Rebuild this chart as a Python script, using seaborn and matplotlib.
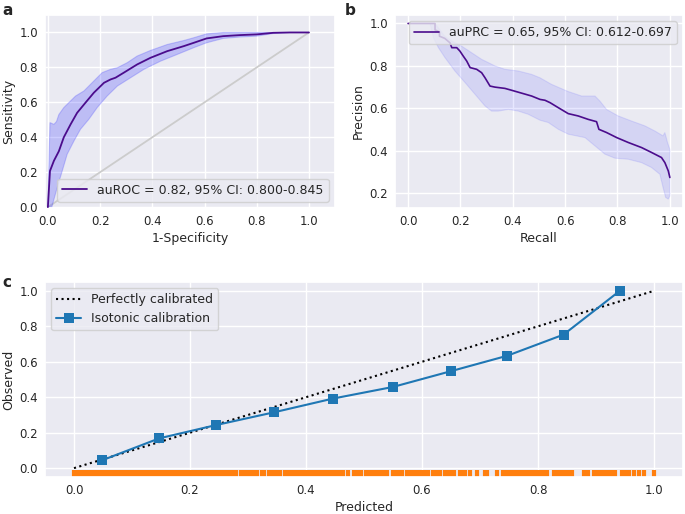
import numpy as np
import matplotlib
matplotlib.use("Agg")
import matplotlib.pyplot as plt
import seaborn as sns

# ---------------- data ----------------
# Panel a: ROC
roc_fpr = [0.0, 0.008, 0.023, 0.042, 0.061, 0.087, 0.112, 0.144, 0.176, 0.215, 0.24, 0.259,
           0.291, 0.342, 0.393, 0.457, 0.521, 0.559, 0.608, 0.672, 0.736, 0.80, 0.863, 0.927, 1.0]
roc_tpr = [0.0, 0.207, 0.265, 0.32, 0.40, 0.474, 0.54, 0.598, 0.655, 0.712, 0.731, 0.741,
           0.77, 0.817, 0.855, 0.893, 0.922, 0.941, 0.966, 0.979, 0.985, 0.989, 0.998, 1.0, 1.0]
roc_up_x = [0.0, 0.008, 0.023, 0.033, 0.042, 0.061, 0.08, 0.106, 0.138, 0.176, 0.208, 0.24,
            0.266, 0.304, 0.342, 0.393, 0.457, 0.521, 0.559, 0.608, 0.672, 1.0]
roc_up_y = [0.0, 0.484, 0.474, 0.49, 0.53, 0.57, 0.598, 0.636, 0.665, 0.722, 0.77, 0.789,
            0.798, 0.827, 0.865, 0.897, 0.931, 0.954, 0.97, 0.992, 1.0, 1.0]
roc_lo_x = [0.0, 0.015, 0.036, 0.055, 0.074, 0.10, 0.125, 0.157, 0.189, 0.227, 0.266, 0.317,
            0.368, 0.432, 0.495, 0.559, 0.608, 0.672, 0.736, 0.80, 0.863, 0.927, 1.0]
roc_lo_y = [0.0, 0.0, 0.113, 0.207, 0.303, 0.379, 0.446, 0.503, 0.57, 0.636, 0.693, 0.741,
            0.789, 0.836, 0.874, 0.913, 0.941, 0.966, 0.974, 0.979, 0.994, 1.0, 1.0]
diag = [0.0, 1.0]

# Panel b: PR
pr_rec = [0.0, 0.103, 0.103, 0.12, 0.12, 0.14, 0.16, 0.167, 0.186, 0.198, 0.211, 0.224, 0.237,
          0.262, 0.281, 0.294, 0.313, 0.332, 0.37, 0.396, 0.427, 0.472, 0.504, 0.523, 0.542,
          0.574, 0.612, 0.65, 0.688, 0.72, 0.729, 0.758, 0.797, 0.841, 0.892, 0.93, 0.968,
          0.981, 0.994, 1.0]
pr_prec = [1.0, 1.0, 0.97, 0.96, 0.94, 0.93, 0.909, 0.886, 0.886, 0.87, 0.846, 0.823, 0.792,
           0.784, 0.768, 0.744, 0.705, 0.70, 0.694, 0.685, 0.674, 0.658, 0.642, 0.638, 0.627,
           0.603, 0.575, 0.564, 0.548, 0.537, 0.501, 0.486, 0.462, 0.439, 0.415, 0.392, 0.368,
           0.344, 0.305, 0.274]
pr_up_x = [0.0, 0.103, 0.14, 0.17, 0.205, 0.243, 0.281, 0.332, 0.37, 0.421, 0.472, 0.504,
           0.548, 0.612, 0.663, 0.714, 0.733, 0.758, 0.803, 0.854, 0.905, 0.943, 0.974,
           0.981, 0.991, 1.0]
pr_up_y = [1.0, 1.0, 0.94, 0.915, 0.893, 0.862, 0.831, 0.80, 0.784, 0.776, 0.76, 0.744,
           0.713, 0.679, 0.658, 0.658, 0.634, 0.595, 0.564, 0.54, 0.517, 0.493, 0.47,
           0.486, 0.439, 0.407]
pr_lo_x = [0.0, 0.084, 0.097, 0.116, 0.141, 0.179, 0.218, 0.256, 0.294, 0.319, 0.345, 0.383,
           0.421, 0.459, 0.504, 0.536, 0.574, 0.612, 0.676, 0.714, 0.752, 0.79, 0.841, 0.892,
           0.93, 0.962, 0.974, 0.984, 0.994, 1.0]
pr_lo_y = [1.0, 1.0, 0.933, 0.886, 0.839, 0.776, 0.721, 0.666, 0.611, 0.587, 0.587, 0.595,
           0.587, 0.572, 0.544, 0.533, 0.501, 0.478, 0.462, 0.423, 0.384, 0.365, 0.36, 0.344,
           0.321, 0.289, 0.227, 0.18, 0.172, 0.187]

# Panel c: calibration
cal_pred = [0.049, 0.147, 0.245, 0.345, 0.446, 0.55, 0.65, 0.747, 0.844, 0.941]
cal_obs = [0.045, 0.168, 0.243, 0.315, 0.392, 0.458, 0.547, 0.634, 0.753, 1.0]
rug_vals = [
    0.000, 0.004, 0.008, 0.012, 0.016, 0.020, 0.024, 0.028, 0.032, 0.036, 0.040, 0.044,
    0.048, 0.052, 0.056, 0.060, 0.064, 0.068, 0.072, 0.076, 0.080, 0.084, 0.088, 0.092,
    0.096, 0.100, 0.104, 0.108, 0.112, 0.116, 0.120, 0.124, 0.128, 0.132, 0.136, 0.140,
    0.144, 0.148, 0.152, 0.156, 0.160, 0.164, 0.168, 0.172, 0.176, 0.180, 0.184, 0.188,
    0.192, 0.196, 0.200, 0.204, 0.208, 0.212, 0.216, 0.220, 0.224, 0.228, 0.232, 0.236,
    0.240, 0.244, 0.248, 0.252, 0.256, 0.260, 0.264, 0.268, 0.272, 0.276, 0.280, 0.288,
    0.292, 0.296, 0.300, 0.304, 0.308, 0.312, 0.316, 0.324, 0.328, 0.336, 0.340, 0.344,
    0.351, 0.355, 0.363, 0.367, 0.371, 0.375, 0.382, 0.386, 0.390, 0.394, 0.398, 0.404,
    0.408, 0.412, 0.416, 0.420, 0.424, 0.428, 0.432, 0.436, 0.440, 0.444, 0.451, 0.455,
    0.459, 0.463, 0.473, 0.482, 0.486, 0.490, 0.494, 0.504, 0.508, 0.512, 0.516, 0.520,
    0.524, 0.528, 0.532, 0.536, 0.540, 0.550, 0.554, 0.558, 0.562, 0.566, 0.574, 0.578,
    0.582, 0.586, 0.590, 0.594, 0.602, 0.606, 0.610, 0.619, 0.623, 0.627, 0.631, 0.640,
    0.644, 0.648, 0.652, 0.656, 0.666, 0.670, 0.674, 0.683, 0.695, 0.708, 0.712, 0.729,
    0.739, 0.743, 0.747, 0.751, 0.756, 0.762, 0.766, 0.770, 0.774, 0.779, 0.785, 0.790,
    0.794, 0.797, 0.802, 0.808, 0.816, 0.828, 0.832, 0.836, 0.840, 0.845, 0.849, 0.854,
    0.859, 0.880, 0.887, 0.897, 0.901, 0.905, 0.909, 0.914, 0.919, 0.924, 0.928, 0.933,
    0.945, 0.950, 0.957, 0.966, 0.974, 0.983, 1.000]

roc_label = "auROC = 0.82, 95% CI: 0.800-0.845"
pr_label = "auPRC = 0.65, 95% CI: 0.612-0.697"
ticks = [0.0, 0.2, 0.4, 0.6, 0.8, 1.0]

# ---------------- style ----------------
sns.set_theme(style="darkgrid")
plt.rcParams["font.family"] = ["DejaVu Sans"]
plt.rcParams["xtick.labelsize"] = 8.5
plt.rcParams["ytick.labelsize"] = 8.5
plt.rcParams["xtick.major.size"] = 0
plt.rcParams["ytick.major.size"] = 0
plt.rcParams["xtick.major.pad"] = 5
plt.rcParams["ytick.major.pad"] = 5
plt.rcParams["axes.labelsize"] = 9
plt.rcParams["legend.fontsize"] = 9

line_col = "#4B0C8C"
fill_col = "#3a3aff"

fig = plt.figure(figsize=(6.85, 5.14), dpi=100)
ax_a = fig.add_axes([0.0657, 0.5953, 0.4234, 0.3755])
ax_b = fig.add_axes([0.5766, 0.5953, 0.4204, 0.3755])
ax_c = fig.add_axes([0.0657, 0.0720, 0.9314, 0.3794])

# ---- a ----
ax_a.plot(diag, diag, color="#cccccc", lw=1.3, zorder=1)
ax_a.fill(np.concatenate([roc_up_x, roc_lo_x[::-1]]),
          np.concatenate([roc_up_y, roc_lo_y[::-1]]),
          color=fill_col, alpha=0.25, lw=0.8, zorder=2)
sns.lineplot(x=roc_fpr, y=roc_tpr, ax=ax_a, color=line_col, lw=1.3, sort=False,
             estimator=None, label=roc_label, zorder=3)
ax_a.set_xlim(-0.011, 1.1)
ax_a.set_ylim(-0.005, 1.1)
ax_a.set_xticks(ticks)
ax_a.set_yticks(ticks)
ax_a.set_xlabel("1-Specificity", labelpad=3)
ax_a.set_ylabel("Sensitivity", labelpad=3)
ax_a.legend(loc="lower right", handlelength=2.0, borderpad=0.4)

# ---- b ----
ax_b.fill(np.concatenate([pr_up_x, pr_lo_x[::-1]]),
          np.concatenate([pr_up_y, pr_lo_y[::-1]]),
          color=fill_col, alpha=0.12, lw=0.8, zorder=2)
sns.lineplot(x=pr_rec, y=pr_prec, ax=ax_b, color=line_col, lw=1.2, sort=False,
             estimator=None, label=pr_label, zorder=3)
ax_b.set_xticks(ticks)
ax_b.set_yticks([0.2, 0.4, 0.6, 0.8, 1.0])
ax_b.set_xlim(-0.05, 1.05)
ax_b.set_ylim(0.13, 1.04)
ax_b.set_xlabel("Recall", labelpad=3)
ax_b.set_ylabel("Precision", labelpad=3)
ax_b.legend(loc="upper right", handlelength=2.0, borderpad=0.4)

# ---- c ----
sns.lineplot(x=diag, y=diag, ax=ax_c, color="black", linestyle=":", lw=1.5,
             label="Perfectly calibrated")
sns.lineplot(x=cal_pred, y=cal_obs, ax=ax_c, color="#1f77b4", marker="s", markersize=7,
             markeredgewidth=0, lw=1.5, label="Isotonic calibration", sort=False, estimator=None)
sns.rugplot(x=rug_vals, ax=ax_c, color="#ff7f0e", height=0.035, linewidth=3.0,
            expand_margins=False)
ax_c.set_xlim(-0.05, 1.05)
ax_c.set_ylim(-0.05, 1.05)
ax_c.set_xticks(ticks)
ax_c.set_yticks(ticks)
ax_c.set_xlabel("Predicted", labelpad=3)
ax_c.set_ylabel("Observed", labelpad=3)
ax_c.legend(loc="upper left", handlelength=2.0, borderpad=0.4)

fig.text(0.003, 0.995, "a", fontsize=11, fontweight="bold", va="top")
fig.text(0.503, 0.995, "b", fontsize=11, fontweight="bold", va="top")
fig.text(0.003, 0.465, "c", fontsize=11, fontweight="bold", va="top")

fig.savefig("out.png", dpi=100)
